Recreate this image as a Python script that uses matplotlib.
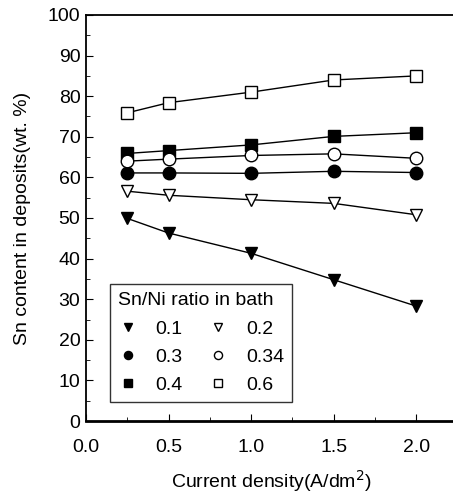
import matplotlib
matplotlib.use("Agg")
import matplotlib.pyplot as plt
from matplotlib.ticker import MultipleLocator, FormatStrFormatter

plt.rcParams['font.family'] = ['Liberation Sans', 'DejaVu Sans']

x = [0.25, 0.5, 1.0, 1.5, 2.0]
labels = ["0.1", "0.3", "0.4", "0.2", "0.34", "0.6"]
sn_01 = [49.9, 46.3, 41.3, 34.8, 28.3]
sn_03 = [61.1, 61.1, 61.0, 61.5, 61.2]
sn_04 = [65.9, 66.6, 68.0, 70.1, 71.0]
sn_02 = [56.6, 55.6, 54.5, 53.6, 50.8]
sn_034 = [64.0, 64.5, 65.4, 65.8, 64.7]
sn_06 = [75.9, 78.4, 81.0, 84.0, 85.0]

series = [sn_01, sn_03, sn_04, sn_02, sn_034, sn_06]
markers = ['v', 'o', 's', 'v', 'o', 's']
filled = [True, True, True, False, False, False]

fig = plt.figure(figsize=(4.53, 4.97), dpi=100)
ax = fig.add_axes([86/453, 1 - 421/497, 1 - 86/453 + 0.01, (421 - 15)/497])

for vals, m, f, lab in zip(series, markers, filled, labels):
    ax.plot(x, vals, color='black', lw=1.0, marker=m, markersize=8.5 if m != 'o' else 9,
            markerfacecolor='black' if f else 'white', markeredgecolor='black',
            markeredgewidth=1.0, label=lab)

ax.set_xlim(0, 2.25)
ax.set_ylim(0, 100)
ax.xaxis.set_major_locator(MultipleLocator(0.5))
ax.xaxis.set_minor_locator(MultipleLocator(0.25))
ax.yaxis.set_major_locator(MultipleLocator(10))
ax.yaxis.set_minor_locator(MultipleLocator(5))
ax.tick_params(which='both', direction='in', labelsize=14)
ax.tick_params(which='major', length=5)
ax.tick_params(which='minor', length=3)
ax.tick_params(axis='x', which='both', pad=13)
ax.tick_params(axis='y', which='both', pad=4)
ax.xaxis.set_major_formatter(FormatStrFormatter('%.1f'))
for s in ax.spines.values():
    s.set_linewidth(1.3)
ax.spines['bottom'].set_linewidth(2.0)

ax.set_xlabel('Current density(A/dm$^2$)', fontsize=14, labelpad=9)
ax.set_ylabel('Sn content in deposits(wt. %)', fontsize=14, labelpad=12)

leg = ax.legend(ncol=2, title='Sn/Ni ratio in bath', loc='lower left',
                bbox_to_anchor=(0.065, 0.047), borderaxespad=0, fontsize=14,
                title_fontsize=14, frameon=True, fancybox=False, edgecolor='black',
                handlelength=1.0, columnspacing=1.34, handletextpad=0.92,
                borderpad=0.4, labelspacing=0.55, markerscale=0.65)
leg.get_frame().set_linewidth(1.0)
leg._legend_box.align = 'left'
for line in leg.get_lines():
    line.set_linestyle('none')

fig.savefig('out.png', dpi=100)
